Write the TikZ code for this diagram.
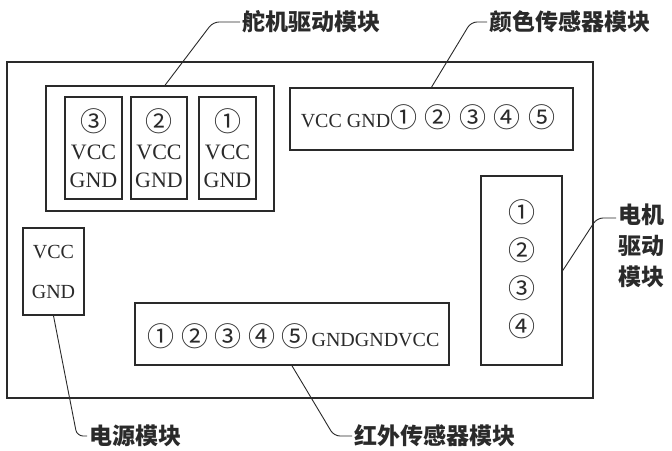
\documentclass[tikz,border=0pt]{standalone}
\usepackage{fontspec}
\setmainfont{Liberation Serif}
\newfontfamily\cjk{Noto Sans CJK SC}
\usetikzlibrary{positioning, calc}
\definecolor{inkGray}{HTML}{2A2A2A}
\newcommand{\cn}[1]{{\cjk\fontsize{27}{27}\selectfont #1}}

\begin{document}
\begin{tikzpicture}[x=1pt, y=-1pt, color=inkGray, text=inkGray,
    box/.style={draw, line width=1.6pt, inner sep=0pt},
    lead/.style={draw, line width=0.9pt, rounded corners=6pt},
    lbl/.style={font=\cjk\bfseries\fontsize{23}{31}\selectfont, inner sep=2pt, anchor=west},
    pins/.style={font=\fontsize{22}{28}\selectfont, align=center}]
    \useasboundingbox[fill=white] (0,0) rectangle (672,450);
    % board
    \node[box, minimum width=586pt, minimum height=336pt] (board) at (300,230) {};
    % servo driver
    \node[box, minimum width=228pt, minimum height=125pt] (servo) at (160,148.5) {};
    \node[box, pins, minimum width=57pt, minimum height=102pt] (srvC) at (93.5,148) {\cn{③}\\VCC\\GND};
    \node[box, pins, minimum width=56pt, minimum height=102pt] (srvB) at (159,148) {\cn{②}\\VCC\\GND};
    \node[box, pins, minimum width=57pt, minimum height=102pt] (srvA) at (227.5,148) {\cn{①}\\VCC\\GND};
    % colour sensor
    \node[box, minimum width=283pt, minimum height=62pt] (color) at (431.5,119) {};
    \node[font=\fontsize{20}{24}\selectfont] (colorPins) at (428,117)
      {VCC GND\cn{①}\hspace{7.5pt}\cn{②}\hspace{7.5pt}\cn{③}\hspace{7.5pt}\cn{④}\hspace{7.5pt}\cn{⑤}};
    % motor driver
    \node[box, minimum width=81pt, minimum height=189pt] (motor) at (521.5,270.5) {};
    \node[align=center, font=\fontsize{20}{38}\selectfont] (motorPins) at (521.5,269)
      {\cn{①}\\\cn{②}\\\cn{③}\\\cn{④}};
    % power
    \node[box, minimum width=61pt, minimum height=87pt] (power) at (53.5,271.5) {};
    \node[align=center, font=\fontsize{20}{40}\selectfont] (powerPins) at (53.5,272) {VCC\\GND};
    % infrared sensor
    \node[box, minimum width=314pt, minimum height=62pt] (ir) at (292,334) {};
    \node[font=\fontsize{20}{24}\selectfont] (irPins) at (293.5,336)
      {\cn{①}\hspace{6.5pt}\cn{②}\hspace{6.5pt}\cn{③}\hspace{6.5pt}\cn{④}\hspace{6.5pt}\cn{⑤}\hspace{3pt}GNDGNDVCC};
    % labels
    \node[lbl] (servoLbl) at (240,22) {舵机驱动模块};
    \node[lbl] (colorLbl) at (487,22) {颜色传感器模块};
    \node[lbl, anchor=north west, align=left] (motorLbl) at (616,202) {电机\\驱动\\模块};
    \node[lbl] (powerLbl) at (87,436) {电源模块};
    \node[lbl] (irLbl) at (352,436) {红外传感器模块};
    % leaders
    \coordinate (servoBend) at (213,22);
    \coordinate (colorBend) at (471,22);
    \coordinate (motorBend) at (597,218);
    \coordinate (powerBend) at (77,436);
    \coordinate (irBend) at (334,436);
    \draw[lead] ($(servo.north west)!0.522!(servo.north east)$) -- (servoBend) -- (servoLbl.west);
    \draw[lead] (color.north) -- (colorBend) -- (colorLbl.west);
    \draw[lead] (motor.east) -- (motorBend) -- (motorBend -| motorLbl.west);
    \draw[lead] (power.south) -- (powerBend) -- (powerLbl.west);
    \draw[lead] (ir.south) -- (irBend) -- (irLbl.west);
\end{tikzpicture}
\end{document}
